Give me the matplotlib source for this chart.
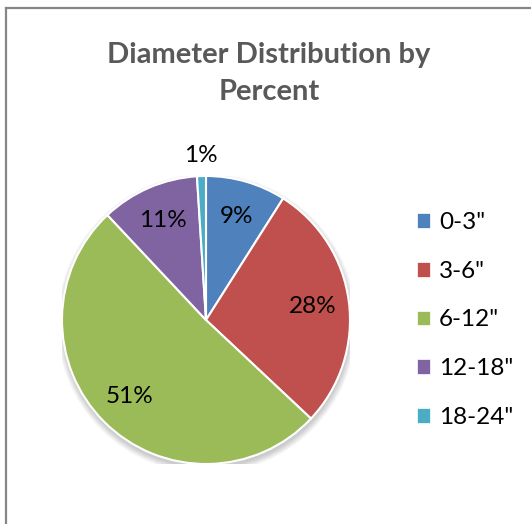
import matplotlib
matplotlib.use("Agg")
import matplotlib.pyplot as plt
from matplotlib.patches import Circle, Patch
from matplotlib.lines import Line2D
import numpy as np

categories = ['0-3"', '3-6"', '6-12"', '12-18"', '18-24"']
values = [9, 28, 51, 11, 1]
colors = ['#4F81BD', '#C0504D', '#9BBB59', '#8064A2', '#4BACC6']
title_lines = ["Diameter Distribution by", "Percent"]

W, H = 531, 524
fig = plt.figure(figsize=(W / 100, H / 100), dpi=100)
fig.patch.set_facecolor('white')

# chart border (left and top visible)
bc = '#868686'
fig.add_artist(Line2D([6 / W, 6 / W], [0, 1 - 8 / H], color=bc, lw=1.6, transform=fig.transFigure))
fig.add_artist(Line2D([6 / W, 1], [1 - 8 / H, 1 - 8 / H], color=bc, lw=1.6, transform=fig.transFigure))

for line, yb in zip(title_lines, [63, 100]):
    fig.text(269 / W, 1 - yb / H, line, ha='center', va='baseline', fontsize=21,
             fontweight='bold', color='#595959', family='Lato')

cx, cy, r = 206, 320, 144
ax = fig.add_axes([(cx - r) / W, (H - cy - r) / H, 2 * r / W, 2 * r / H])
ax.axis('off')

# soft shadow
for k in range(6):
    ax.add_patch(Circle((0.005, -0.025), 1.0 + 0.008 * (5 - k), color='#000000',
                        alpha=0.035, lw=0, zorder=0))

wedges, _ = ax.pie(values, colors=colors, startangle=90, counterclock=False, radius=1.0,
                   wedgeprops=dict(edgecolor='white', linewidth=1.5), frame=False)
for w in wedges:
    w.set_zorder(2)
ax.set_xlim(-1, 1)
ax.set_ylim(-1, 1)
ax.set_aspect('auto')

for w, v in zip(wedges, values):
    ang = np.deg2rad((w.theta1 + w.theta2) / 2)
    d = 0.75 if v >= 5 else 1.14
    ax.text(d * np.cos(ang), d * np.sin(ang), f"{v}%", ha='center', va='center',
            fontsize=17.5, family='Lato', color='black', zorder=5)

handles = [Patch(facecolor=c, edgecolor='white', linewidth=0.5) for c in colors]
fig.legend(handles, categories, loc='center left', bbox_to_anchor=(417 / W, 1 - 320 / H),
           frameon=False, prop=dict(family='Lato', size=17.5), handlelength=0.55, handleheight=0.55,
           handletextpad=0.35, labelspacing=1.14, borderaxespad=0, borderpad=0)

fig.savefig('out.png', dpi=100)
